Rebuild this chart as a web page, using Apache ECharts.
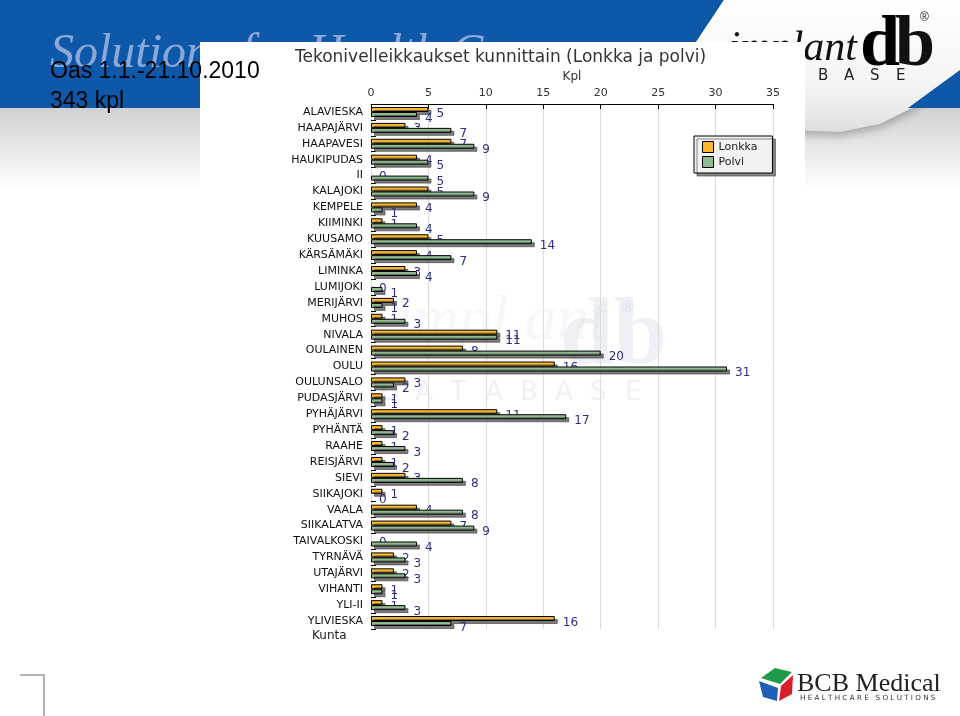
<!DOCTYPE html>
<html><head><meta charset="utf-8">
<script src="https://cdn.jsdelivr.net/npm/echarts@6/dist/echarts.min.js"></script>
<style>html,body{margin:0;padding:0;background:#fff}#c{width:960px;height:716px}</style>
</head><body><div id="c"></div>
<script>
const categories = ['ALAVIESKA','HAAPAJÄRVI','HAAPAVESI','HAUKIPUDAS','II','KALAJOKI','KEMPELE','KIIMINKI','KUUSAMO','KÄRSÄMÄKI','LIMINKA','LUMIJOKI','MERIJÄRVI','MUHOS','NIVALA','OULAINEN','OULU','OULUNSALO','PUDASJÄRVI','PYHÄJÄRVI','PYHÄNTÄ','RAAHE','REISJÄRVI','SIEVI','SIIKAJOKI','VAALA','SIIKALATVA','TAIVALKOSKI','TYRNÄVÄ','UTAJÄRVI','VIHANTI','YLI-II','YLIVIESKA'];
const lonkka = [5,3,7,4,0,5,4,1,5,4,3,0,2,1,11,8,16,3,1,11,1,1,1,3,1,4,7,0,2,2,1,1,16];
const polvi  = [4,7,9,5,5,9,1,4,14,7,4,1,1,3,11,20,31,2,1,17,2,3,2,8,0,8,9,4,3,3,1,3,7];
const seriesNames = ['Lonkka','Polvi'];
const axisMin = 0, axisMax = 35, axisStep = 5;
const chartTitle = 'Tekonivelleikkaukset kunnittain (Lonkka ja polvi)';
const xName = 'Kpl', yName = 'Kunta';
const headText1 = 'Oas 1.1.-21.10.2010', headText2 = '343 kpl';

const chart = echarts.init(document.getElementById('c'), null, {renderer:'canvas'});
const labelColor = '#2e2e80';
const shadow = {shadowColor:'rgba(80,80,80,0.75)', shadowOffsetX:3, shadowOffsetY:3, shadowBlur:0};
// zero-value bars get no outline stub
const toItems = arr => arr.map(v => v === 0 ? {value:v, itemStyle:{borderWidth:0, shadowColor:'rgba(0,0,0,0)'}} : v);

const dbLetters = ['D','A','T','A','B','A','S','E'];
const graphics = [
  {type:'rect', z:0, shape:{x:0,y:100,width:960,height:90}, style:{fill:{type:'linear',x:0,y:0,x2:0,y2:1,colorStops:[{offset:0,color:'#cdcdcd'},{offset:1,color:'#ffffff'}]}}},
  {type:'polygon', z:0, shape:{points:[[0,0],[724,0],[652,108],[0,108]]}, style:{fill:'#0d58a8'}},
  {type:'polygon', z:0, shape:{points:[[724,0],[960,0],[960,72],[912,108],[880,124],[840,132],[790,130],[700,118],[652,108]]},
    style:{fill:{type:'linear',x:0,y:0,x2:0,y2:1,colorStops:[{offset:0,color:'#ffffff'},{offset:0.7,color:'#f3f3f3'},{offset:1,color:'#dedede'}]}, shadowColor:'rgba(0,0,0,0.25)', shadowBlur:8, shadowOffsetY:4}},
  {type:'polygon', z:0, shape:{points:[[960,70],[960,108],[908,108]]}, style:{fill:'#0d58a8'}},
  {type:'text', z:0, style:{x:50,y:30,text:'Solutions for Health Care',font:'italic 48px "Liberation Serif"',fill:'rgba(170,190,230,0.8)'}},
  {type:'text', z:0, style:{x:857,y:28,text:'implant',font:'italic 42px "Liberation Serif"',fill:'#111',align:'right'}},
  {type:'text', z:0, style:{x:860,y:10,text:'d',font:'bold 72px "Liberation Serif"',fill:{type:'linear',x:0,y:0,x2:1,y2:0,colorStops:[{offset:0,color:'#0a3f8c'},{offset:0.5,color:'#4a86d6'},{offset:1,color:'#0a3f8c'}]}}},
  {type:'text', z:0, style:{x:895,y:10,text:'b',font:'bold 72px "Liberation Serif"',fill:'#111'}},
  {type:'text', z:0, style:{x:920,y:12,text:'®',font:'12px "Liberation Sans"',fill:'#222'}},
  ...dbLetters.map((l,i)=>({type:'text', z:0, style:{x:714+26*i,y:69,text:l,font:'15px "DejaVu Sans"',fill:'#222'}})),
  {type:'rect', z:1, shape:{x:200,y:42,width:605,height:605}, style:{fill:'#ffffff'}},
  {type:'text', z:1, style:{x:395,y:290,text:'impl ant',font:'italic 64px "Liberation Serif"',fill:'rgba(200,206,220,0.16)'}},
  {type:'text', z:1, style:{x:560,y:290,text:'db',font:'bold 96px "Liberation Serif"',fill:'rgba(190,198,222,0.26)'}},
  {type:'text', z:1, style:{x:622,y:300,text:'®',font:'16px "Liberation Sans"',fill:'rgba(190,198,222,0.4)'}},
  ...dbLetters.map((l,i)=>({type:'text', z:1, style:{x:380+35*i,y:380,text:l,font:'26px "DejaVu Sans"',fill:'rgba(200,206,220,0.28)'}})),
  {type:'text', z:6, style:{x:50,y:60,text:headText1,font:'23px "Liberation Sans"',fill:'#000'}},
  {type:'text', z:6, style:{x:50,y:90,text:headText2,font:'23px "Liberation Sans"',fill:'#000'}},
  {type:'text', z:6, style:{x:312,y:630,text:yName,font:'12px "DejaVu Sans"',fill:'#222'}},
  {type:'polyline', z:6, shape:{points:[[20,675],[44,675],[44,716]]}, style:{stroke:'#999',lineWidth:1.5,fill:null}},
  {type:'polygon', z:6, shape:{points:[[761,678],[775,668],[792,672],[780,684]]}, style:{fill:'#1f9a4a'}},
  {type:'polygon', z:6, shape:{points:[[781,686],[793,675],[792,694],[779,701]]}, style:{fill:'#d81e2a'}},
  {type:'polygon', z:6, shape:{points:[[759,681],[778,688],[777,701],[763,697]]}, style:{fill:'#1f5fb8'}},
  {type:'text', z:6, style:{x:797,y:671,text:'BCB Medical',font:'26px "Liberation Serif"',fill:'#222'}},
  {type:'text', z:6, style:{x:800,y:695,text:'H E A L T H C A R E   S O L U T I O N S',font:'7.2px "DejaVu Sans"',fill:'#333'}}
];

chart.setOption({
  backgroundColor:'#ffffff',
  animation:false,
  title:{text:chartTitle, left:290, top:44, z:6, textStyle:{fontFamily:'DejaVu Sans', fontSize:17, fontWeight:'normal', color:'#333'}},
  legend:{data:seriesNames, orient:'vertical', left:694, top:136, z:10, icon:'rect', itemWidth:11, itemHeight:11, itemGap:3,
    padding:[5,15,5,8], backgroundColor:'#f2f2f2', borderColor:'#000', borderWidth:1, borderRadius:0,
    shadowColor:'rgba(60,60,60,0.6)', shadowOffsetX:3, shadowOffsetY:3, shadowBlur:0,
    textStyle:{fontFamily:'DejaVu Sans', fontSize:11, color:'#222'},
    itemStyle:{borderColor:'#000', borderWidth:1, shadowColor:'rgba(0,0,0,0)', shadowOffsetX:0, shadowOffsetY:0}},
  grid:{left:371, right:187, top:104, bottom:87, containLabel:false, z:2},
  xAxis:{type:'value', position:'top', min:axisMin, max:axisMax, interval:axisStep, z:2,
    name:xName, nameLocation:'middle', nameGap:19, nameTextStyle:{fontFamily:'DejaVu Sans', fontSize:12, color:'#333'},
    axisLine:{show:true, lineStyle:{color:'#000', width:1}},
    axisTick:{show:true, inside:true, length:5, lineStyle:{color:'#000'}},
    axisLabel:{margin:5, fontFamily:'DejaVu Sans', fontSize:11, color:'#333'},
    splitLine:{show:true, lineStyle:{color:'#dcdcdc', width:1}}},
  yAxis:{type:'category', data:categories, inverse:true, z:2,
    axisLine:{show:false},
    axisTick:{show:true, inside:true, length:5, lineStyle:{color:'#000'}},
    axisLabel:{margin:8, fontFamily:'DejaVu Sans', fontSize:11, color:'#111', interval:0}},
  series:[
    {name:seriesNames[0], type:'bar', data:toItems(lonkka), barWidth:5, barGap:'0%', z:3,
      itemStyle:Object.assign({color:'#fdb72a', borderColor:'#000', borderWidth:1}, shadow),
      label:{show:true, position:'right', distance:8, offset:[0,4], color:labelColor, fontFamily:'DejaVu Sans', fontSize:12}},
    {name:seriesNames[1], type:'bar', data:toItems(polvi), barWidth:5, barGap:'0%', z:4,
      itemStyle:Object.assign({color:'#8fbc8f', borderColor:'#000', borderWidth:1}, shadow),
      label:{show:true, position:'right', distance:8, offset:[0,4], color:labelColor, fontFamily:'DejaVu Sans', fontSize:12}}
  ],
  graphic:{elements:graphics}
});
</script>
</body></html>
